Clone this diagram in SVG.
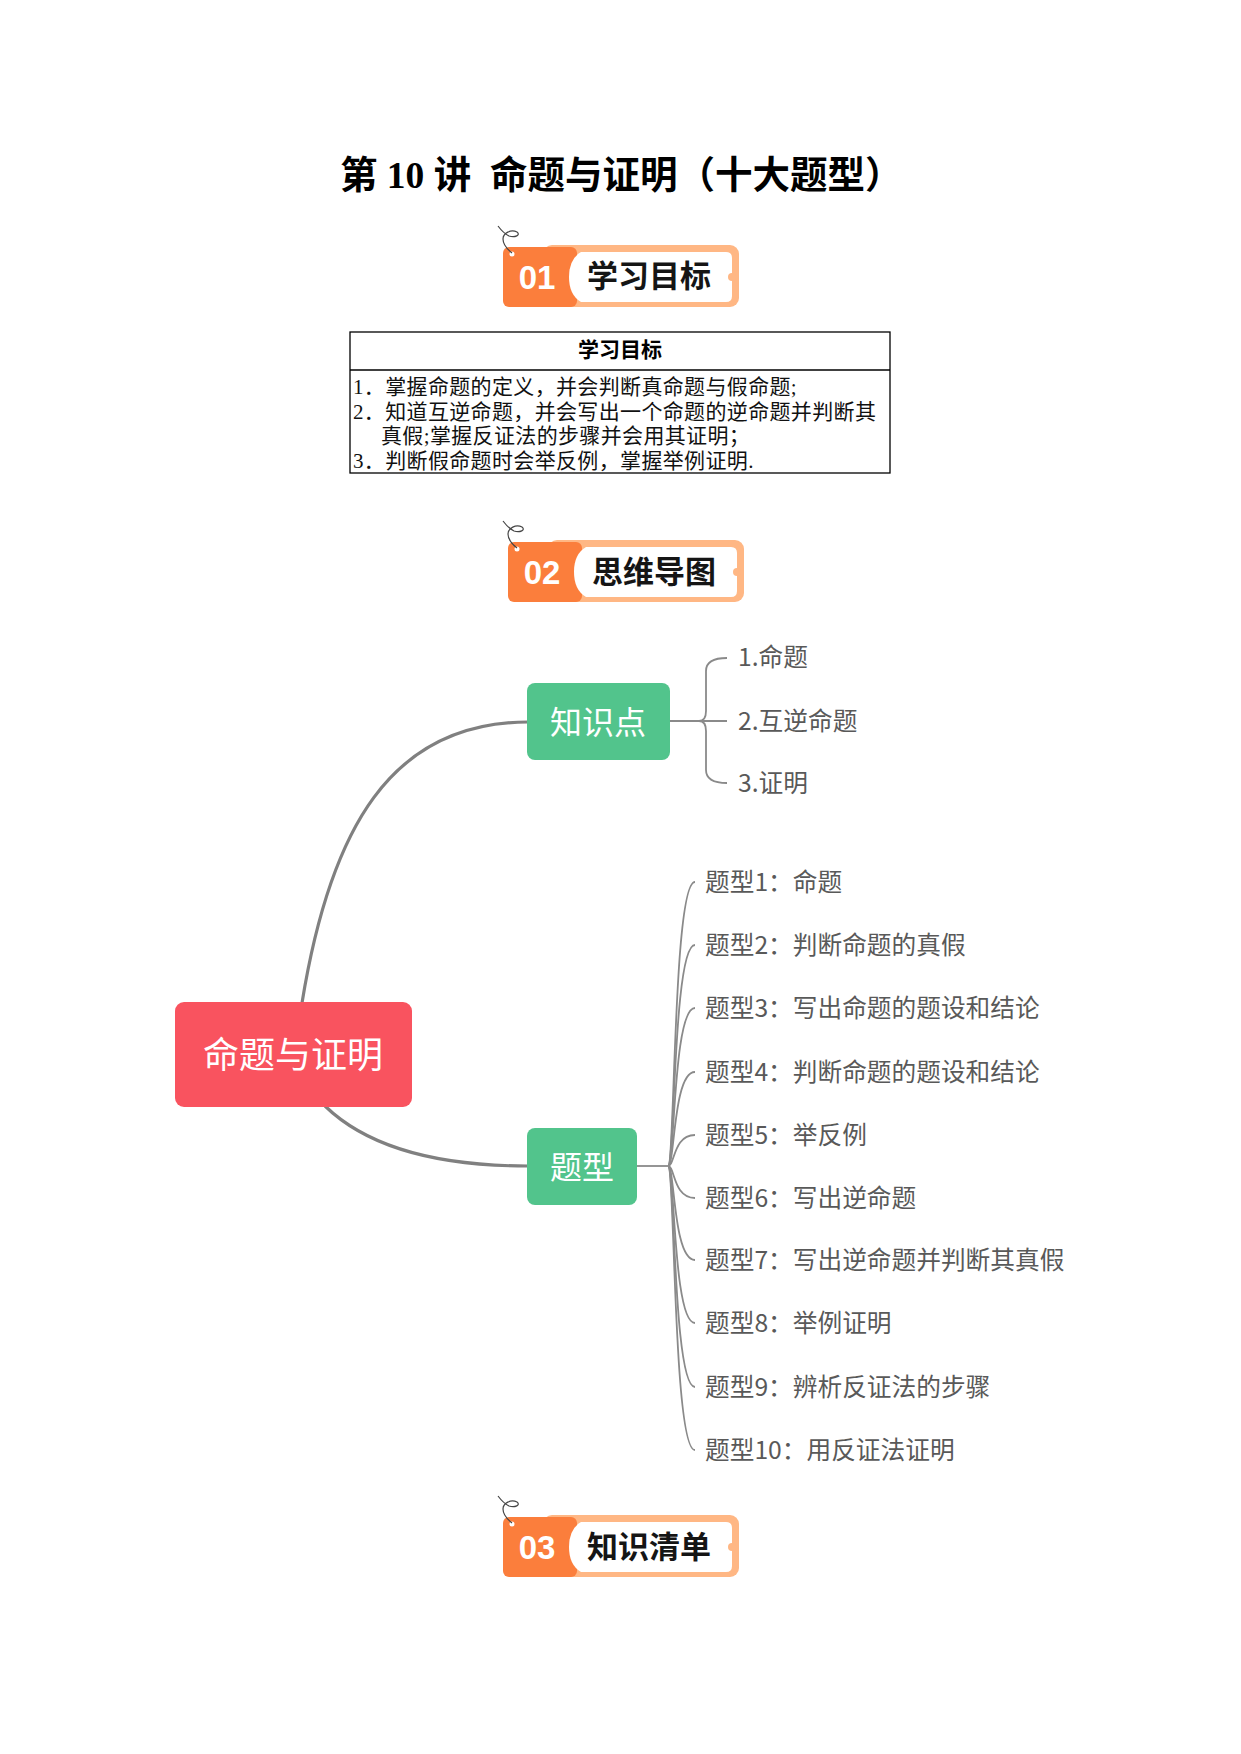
<svg xmlns="http://www.w3.org/2000/svg" xmlns:xlink="http://www.w3.org/1999/xlink" width="1241" height="1754" viewBox="0 0 1241 1754">
<style>
.title{font-family:"Liberation Serif","Noto Sans CJK SC",serif;font-weight:bold;font-size:37.5px;fill:#000}
.bnum{font-family:"Liberation Sans","Noto Sans CJK SC",sans-serif;font-weight:bold;font-size:33px;fill:#fff;text-anchor:middle}
.btxt{font-family:"Noto Sans CJK SC",sans-serif;font-weight:bold;font-size:31px;fill:#151515;text-anchor:middle}
.th{font-family:"Liberation Serif","Noto Sans CJK SC",serif;font-weight:bold;font-size:21px;fill:#000;text-anchor:middle}
.td{font-family:"Liberation Serif","Noto Sans CJK SC",serif;font-size:21px;fill:#111;letter-spacing:0.35px}
.node{font-family:"Noto Sans CJK SC",sans-serif;fill:#fff;text-anchor:middle}
.leaf{font-family:"Noto Sans CJK SC",sans-serif;font-size:24.7px;fill:#595959}
.main{fill:none;stroke:#808080;stroke-width:3.2}
.thin{fill:none;stroke:#8a8a8a;stroke-width:1.8}
</style>
<defs>
<g id="badge">
<rect x="40" y="0" width="196" height="62" rx="9" fill="#FFB784"/>
<rect x="0" y="2" width="74" height="60" rx="6" fill="#FB7E3C"/>
<path d="M78,7 L223,7 Q229,7 229,13 L229,51 Q229,57 223,57 L78,57 Q66,50 66,32 Q66,14 78,7 Z" fill="#fff"/>
<circle cx="229" cy="32" r="4" fill="#FFB784"/>
<circle cx="9" cy="9" r="2.5" fill="#fff"/>
<path d="M9,8 C4,4 0,0 0,-6 C0,-12 8,-16 14,-13 C18,-10 12,-7 6,-9 C2,-11 -2,-15 -5,-19" fill="none" stroke="#444" stroke-width="1.2"/>
</g>
</defs>
<rect width="1241" height="1754" fill="#fff"/>

<text class="title" x="340" y="188" xml:space="preserve">第 10 讲  命题与证明（十大题型）</text>

<g id="badge01">
<use xlink:href="#badge" x="503" y="245"/>
<text class="bnum" x="537" y="289">01</text>
<text class="btxt" x="649" y="287">学习目标</text>
</g>

<g id="goal-table">
<rect x="350" y="332" width="540" height="141" fill="none" stroke="#000" stroke-width="1.3"/>
<line x1="350" y1="370" x2="890" y2="370" stroke="#000" stroke-width="1.3"/>
<text class="th" x="620" y="357">学习目标</text>
<text class="td" x="353" y="394">1．掌握命题的定义，并会判断真命题与假命题;</text>
<text class="td" x="353" y="419">2．知道互逆命题，并会写出一个命题的逆命题并判断其</text>
<text class="td" x="381" y="443">真假;掌握反证法的步骤并会用其证明；</text>
<text class="td" x="353" y="468">3．判断假命题时会举反例，掌握举例证明.</text>
</g>

<g id="badge02">
<use xlink:href="#badge" x="508" y="540"/>
<text class="bnum" x="542" y="584">02</text>
<text class="btxt" x="654" y="583">思维导图</text>
</g>

<g id="connectors">
<path class="main" d="M302,1003 C330,830 390,722 528,722"/>
<path class="main" d="M325,1106 C360,1140 420,1166 528,1166"/>
<path class="thin" d="M669,721 L727,721"/>
<path class="thin" d="M699,721 Q706,721 706,711 L706,671 Q706,658 727,658"/>
<path class="thin" d="M699,721 Q706,721 706,731 L706,770 Q706,783 727,783"/>
<path class="thin" d="M636,1166 L668,1166"/>
<path class="thin" d="M668,1166 C675,1166 673,882 695,882"/>
<path class="thin" d="M668,1166 C675,1166 673,945 695,945"/>
<path class="thin" d="M668,1166 C675,1166 673,1008 695,1008"/>
<path class="thin" d="M668,1166 C675,1166 673,1072 695,1072"/>
<path class="thin" d="M668,1166 C675,1166 673,1135 695,1135"/>
<path class="thin" d="M668,1166 C675,1166 673,1198 695,1198"/>
<path class="thin" d="M668,1166 C675,1166 673,1260 695,1260"/>
<path class="thin" d="M668,1166 C675,1166 673,1323 695,1323"/>
<path class="thin" d="M668,1166 C675,1166 673,1387 695,1387"/>
<path class="thin" d="M668,1166 C675,1166 673,1450 695,1450"/>
</g>

<g id="root">
<rect x="175" y="1002" width="237" height="105" rx="9" fill="#F9535F"/>
<text class="node" x="293" y="1068" font-size="36">命题与证明</text>
</g>
<g id="knowledge">
<rect x="527" y="683" width="143" height="77" rx="8" fill="#52C48C"/>
<text class="node" x="598" y="734" font-size="32">知识点</text>
</g>
<g id="types">
<rect x="527" y="1128" width="110" height="77" rx="8" fill="#52C48C"/>
<text class="node" x="582" y="1179" font-size="32">题型</text>
</g>

<g id="k1"><text class="leaf" x="738" y="666">1.命题</text></g>
<g id="k2"><text class="leaf" x="738" y="730">2.互逆命题</text></g>
<g id="k3"><text class="leaf" x="738" y="792">3.证明</text></g>

<g id="t1"><text class="leaf" x="705" y="891">题型1：命题</text></g>
<g id="t2"><text class="leaf" x="705" y="954">题型2：判断命题的真假</text></g>
<g id="t3"><text class="leaf" x="705" y="1017">题型3：写出命题的题设和结论</text></g>
<g id="t4"><text class="leaf" x="705" y="1081">题型4：判断命题的题设和结论</text></g>
<g id="t5"><text class="leaf" x="705" y="1144">题型5：举反例</text></g>
<g id="t6"><text class="leaf" x="705" y="1207">题型6：写出逆命题</text></g>
<g id="t7"><text class="leaf" x="705" y="1269">题型7：写出逆命题并判断其真假</text></g>
<g id="t8"><text class="leaf" x="705" y="1332">题型8：举例证明</text></g>
<g id="t9"><text class="leaf" x="705" y="1396">题型9：辨析反证法的步骤</text></g>
<g id="t10"><text class="leaf" x="705" y="1459">题型10：用反证法证明</text></g>

<g id="badge03">
<use xlink:href="#badge" x="503" y="1515"/>
<text class="bnum" x="537" y="1559">03</text>
<text class="btxt" x="649" y="1558">知识清单</text>
</g>
</svg>
